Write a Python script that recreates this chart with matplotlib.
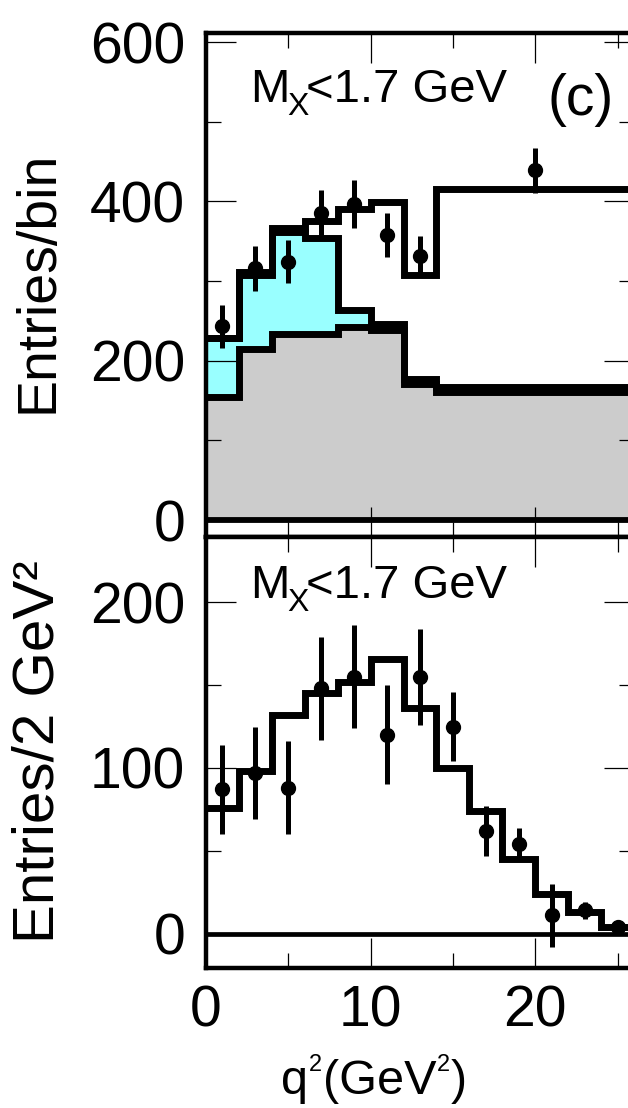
# Importing the modules:
import numpy as np
import matplotlib
matplotlib.use('Agg')
import matplotlib.pyplot as plt
from matplotlib.ticker import MultipleLocator

plt.rcParams['font.family'] = 'Liberation Sans'

# Upper panel: q2 binning and the stacked expectations (entries per bin)
edges_top = np.array([0, 2, 4, 6, 8, 10, 12, 14, 26])
bkg_top = np.array([154, 215, 234, 234, 242, 239, 171, 161])
other_top = np.array([228, 307, 362, 354, 264, 246, 177, 167])
total_top = np.array([228, 311, 366, 375, 391, 399, 308, 415])

# Upper panel: data points
q2_top = np.array([1, 3, 5, 7, 9, 11, 13, 20])
data_top = np.array([243, 316, 324, 386, 397, 358, 332, 439])
err_top = np.array([27, 28, 27, 28, 30, 28, 24, 28])

# Lower panel: background subtracted yield in 2 GeV^2 bins
edges_bot = np.arange(0, 28, 2)
fit_bot = np.array([76, 98, 132, 145, 152, 166, 136, 100, 74, 45, 24, 13, 4])
q2_bot = np.arange(1, 27, 2)
data_bot = np.array([87, 97, 88, 148, 155, 120, 155, 125, 62, 54, 11, 14, 4])
err_bot = np.array([27, 28, 28, 31, 31, 30, 29, 21, 15, 10, 19, 5, 3])

W, H = 628, 1108
fig = plt.figure(figsize=(W / 100, H / 100), dpi=100)
ax1 = fig.add_axes([0.328, 0.5153, 0.6815, 0.4547])
ax2 = fig.add_axes([0.328, 0.1268, 0.6815, 0.3885])

hist_lw = 5
step_kw = dict(color='k', lw=hist_lw, baseline=None, joinstyle='miter', capstyle='projecting', zorder=2)
err_kw = dict(fmt='o', color='k', ms=10, elinewidth=3.6, capsize=0, zorder=3)

# Stacked histograms of the upper panel:
ax1.stairs(bkg_top, edges_top, baseline=0, fill=True, color='#cccccc', lw=0, zorder=1)
ax1.stairs(other_top, edges_top, baseline=bkg_top, fill=True, color='#99ffff', lw=0, zorder=1)
ax1.stairs(bkg_top, edges_top, **step_kw)
ax1.stairs(other_top, edges_top, **step_kw)
ax1.stairs(total_top, edges_top, **step_kw)
ax1.axhline(0, color='k', lw=4.2, zorder=2)
ax1.errorbar(q2_top, data_top, yerr=err_top, **err_kw)

# Lower panel histogram and data:
ax2.stairs(fit_bot, edges_bot, **step_kw)
ax2.axhline(0, color='k', lw=3.4, zorder=2)
ax2.errorbar(q2_bot, data_bot, yerr=err_bot, **err_kw)

ax1.set_xlim(0, 26)
ax2.set_xlim(0, 26)
ax1.set_ylim(-21.3, 611)
ax2.set_ylim(-20.5, 239.4)

ax1.yaxis.set_major_locator(MultipleLocator(200))
ax1.yaxis.set_minor_locator(MultipleLocator(100))
ax2.yaxis.set_major_locator(MultipleLocator(100))
ax2.yaxis.set_minor_locator(MultipleLocator(50))
for ax in (ax1, ax2):
    ax.xaxis.set_major_locator(MultipleLocator(10))
    ax.xaxis.set_minor_locator(MultipleLocator(5))
    ax.tick_params(which='both', direction='in', top=True, right=True, width=0.9, labelsize=41)
    ax.tick_params(which='major', length=21.5)
    ax.tick_params(which='minor', length=10.8)
    ax.tick_params(axis='y', pad=15)
    ax.tick_params(axis='x', pad=12)
    for s in ax.spines.values():
        s.set_linewidth(3.2)
ax1.tick_params(axis='x', labelbottom=False)


# "M_X<1.7 GeV" written in three pieces so the subscript sits low like in PAW
def mx_label(ax, x, y):
    ax.text(x, y, 'M', transform=ax.transAxes, fontsize=34, va='baseline')
    ax.annotate('X', (x, y), xycoords='axes fraction', xytext=(27, -9.5),
                textcoords='offset points', fontsize=23, va='baseline')
    ax.annotate('<1.7 GeV', (x, y), xycoords='axes fraction', xytext=(40.5, 0),
                textcoords='offset points', fontsize=34, va='baseline')


mx_label(ax1, 0.103, 0.864)
mx_label(ax2, 0.103, 0.858)
ax1.text(0.797, 0.838, '(c)', transform=ax1.transAxes, fontsize=41, va='baseline')

fig.text(0.062, 0.7455, 'Entries/bin', rotation=90, fontsize=40, ha='center', va='center')
fig.text(0.062, 0.3213, 'Entries/2 GeV²', rotation=90, fontsize=42, ha='center', va='center')

# x axis title with small raised exponents, pieces placed in pixels
xt_base, xt_sup = 1094, 1071
xt_pieces = [('q', 281, xt_base, 35), ('2', 309, xt_sup, 17), ('(GeV', 323, xt_base, 35),
             ('2', 437, xt_sup, 17), (')', 451, xt_base, 35)]
for s, px, py, fs in xt_pieces:
    fig.text(px / W, 1 - py / H, s, fontsize=fs, ha='left', va='baseline')

fig.savefig('out.png', dpi=100)
